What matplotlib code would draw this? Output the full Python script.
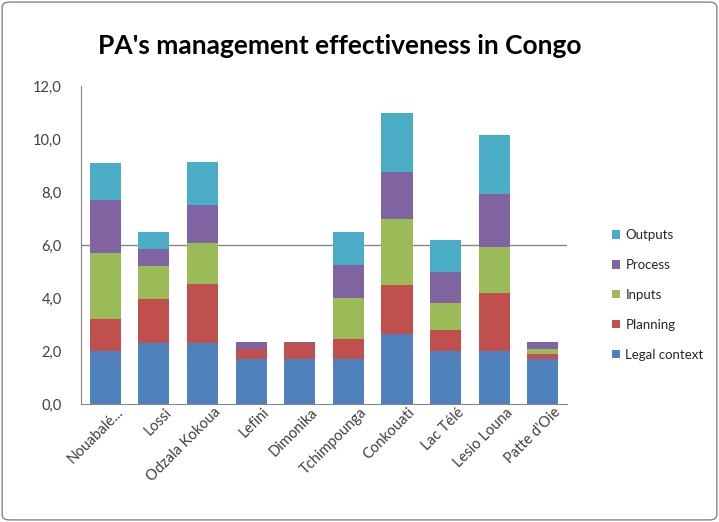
import numpy as np
import matplotlib.pyplot as plt
import matplotlib.transforms as mtransforms
from matplotlib.patches import FancyBboxPatch

plt.rcParams['font.family'] = ['Lato', 'DejaVu Sans']

# ── data ─────────────────────────────────────────────────────
sites = ['Nouabalé...', 'Lossi', 'Odzala Kokoua', 'Lefini', 'Dimonika',
         'Tchimpounga', 'Conkouati', 'Lac Télé', 'Lesio Louna', "Patte d'Oie"]
legal    = [2.0, 2.3, 2.3, 1.7, 1.7, 1.7, 2.65, 2.0, 2.0, 1.7]
planning = [1.2, 1.65, 2.23, 0.37, 0.59, 0.76, 1.83, 0.8, 2.2, 0.19]
inputs   = [2.5, 1.25, 1.53, 0.0, 0.0, 1.54, 2.49, 1.0, 1.72, 0.19]
process  = [2.0, 0.67, 1.44, 0.29, 0.07, 1.26, 1.78, 1.2, 2.02, 0.25]
outputs  = [1.4, 0.62, 1.64, 0.0, 0.0, 1.24, 2.22, 1.2, 2.22, 0.0]

series = [('Legal context', legal, '#4F81BD'),
          ('Planning', planning, '#C0504D'),
          ('Inputs', inputs, '#9BBB59'),
          ('Process', process, '#8064A2'),
          ('Outputs', outputs, '#4BACC6')]

fig = plt.figure(figsize=(7.19, 5.22), dpi=100)
ax = fig.add_axes([0.1127, 0.226, 0.676, 0.609])

x = np.arange(len(sites))
bottom = np.zeros(len(sites))
handles = []
for name, vals, col in series:
    b = ax.bar(x, vals, 0.64, bottom=bottom, color=col, label=name, zorder=2)
    handles.append(b)
    bottom += np.array(vals)

ax.axhline(6, color='#868686', lw=1, zorder=1)

ax.set_xlim(-0.5, len(sites) - 0.5)
ax.set_ylim(0, 12)
ax.set_yticks(np.arange(0, 13, 2))
ax.set_yticklabels([f'{v:.1f}'.replace('.', ',') for v in np.arange(0, 13, 2)])
ax.tick_params(axis='y', length=0, pad=14, labelsize=10.5, labelcolor='#404040')
ax.tick_params(axis='x', length=0, pad=1, labelsize=10.5, labelcolor='#404040')
ax.set_xticks(x)
ax.set_xticklabels(sites, rotation=45, ha='right', rotation_mode='anchor')
shift = mtransforms.ScaledTranslation(8 / 72, 0, fig.dpi_scale_trans)
for lbl in ax.get_xticklabels():
    lbl.set_transform(lbl.get_transform() + shift)

for s in ['top', 'right']:
    ax.spines[s].set_visible(False)
for s in ['left', 'bottom']:
    ax.spines[s].set_color('#868686')

fig.text(0.473, 0.912, "PA's management effectiveness in Congo",
         ha='center', va='center', fontsize=19, fontweight='bold')

leg = fig.legend(handles[::-1], [s[0] for s in series][::-1],
                 loc='center left', bbox_to_anchor=(0.835, 0.435),
                 frameon=False, fontsize=9.5, labelspacing=1.35,
                 handlelength=0.6, handleheight=0.6, handletextpad=0.4)
for t in leg.get_texts():
    t.set_color('#262626')

fig.patches.append(FancyBboxPatch((0.003, 0.004), 0.994, 0.992,
                                  boxstyle='round,pad=0,rounding_size=0.01',
                                  transform=fig.transFigure, fill=False,
                                  edgecolor='#868686', lw=1))

fig.savefig('out.png', dpi=100)
